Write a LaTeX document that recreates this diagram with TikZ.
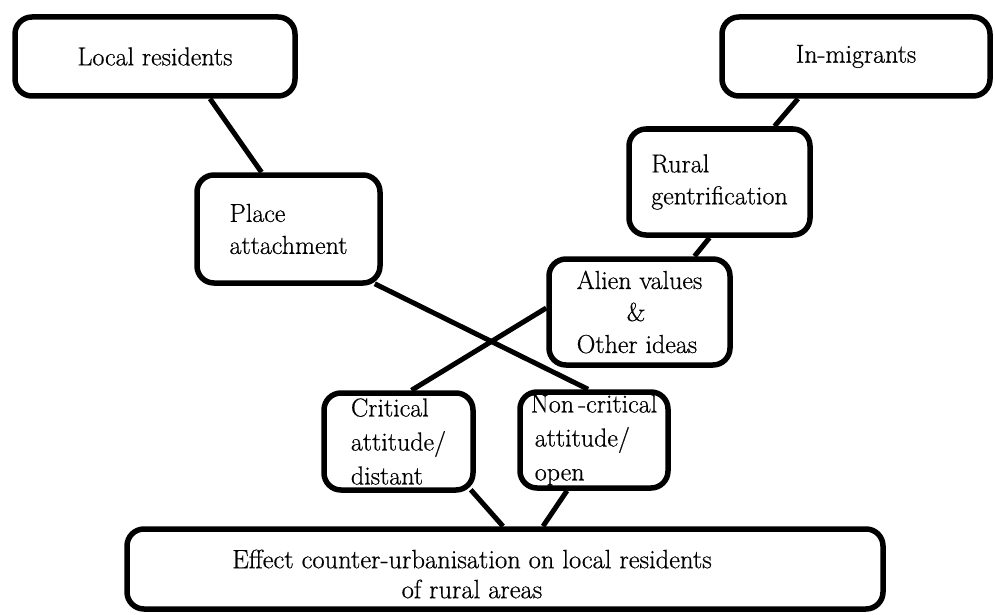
\documentclass[tikz,border=0pt]{standalone}
\usepackage{fontspec}
\newfontfamily\dkfont{Latin Modern Roman}[FakeBold=0.6]
\usetikzlibrary{backgrounds}
\begin{document}
\begin{tikzpicture}[x=1pt,y=-1pt,
  box/.style={draw, line width=5.5pt, rounded corners=17pt, fill=white,
    font=\dkfont\fontsize{26}{32}\selectfont, align=left, inner sep=0pt},
  lbl/.style={font=\dkfont\fontsize{26.5}{30}\selectfont, align=center, inner sep=0pt},
  link/.style={line width=5pt}]
\useasboundingbox (0,0) rectangle (995,615);
\node[box, minimum width=280pt, minimum height=79pt] (lr) at (155,56.5) {Local residents};
\node[box, minimum width=268pt, minimum height=79pt] (im) at (856,56.5) {In-migrants};
\node[box, minimum width=183pt, minimum height=108pt] (pa) at (288.5,229) {Place\\attachment};
\node[box, minimum width=181pt, minimum height=106pt] (rg) at (719.5,182) {Rural\\gentrification};
\node[box, minimum width=181pt, minimum height=106pt] (av) at (639.5,312) {Alien values\\\hspace*{50pt}\&\\Other ideas};
\node[box, minimum width=149pt, minimum height=97pt, font=\dkfont\fontsize{26}{34}\selectfont] (cr) at (398.5,441.5) {Critical\\attitude/\\distant};
\node[box, minimum width=148pt, minimum height=96pt, font=\dkfont\fontsize{26}{34}\selectfont] (nc) at (594,440) {Non\,-critical\\\hspace*{4pt}attitude/\\\hspace*{4pt}open};
\node[box, minimum width=756pt, minimum height=80pt] (ef) at (505,569) {};
\node[lbl] (eft) at (472,574) {Effect counter-urbanisation on local residents\\of rural areas};
\begin{scope}[on background layer]
  \draw[link] ([xshift=55pt]lr.south) -- ([xshift=-27pt]pa.north);
  \draw[link] ([xshift=-58pt]im.south) -- ([xshift=55pt]rg.north);
  \draw[link] ([xshift=-10pt]rg.south) -- ([xshift=55pt]av.north);
  \draw[link] ([xshift=-8pt,yshift=2pt]pa.south east) -- ([xshift=-6pt]nc.north);
  \draw[link] ([yshift=4pt]av.west) -- ([xshift=13pt]cr.north);
  \draw[link] ([xshift=-5pt,yshift=3pt]cr.south east) -- ([xshift=-2pt]ef.north);
  \draw[link] ([xshift=-27pt]nc.south) -- ([xshift=38pt]ef.north);
\end{scope}
\end{tikzpicture}
\end{document}
